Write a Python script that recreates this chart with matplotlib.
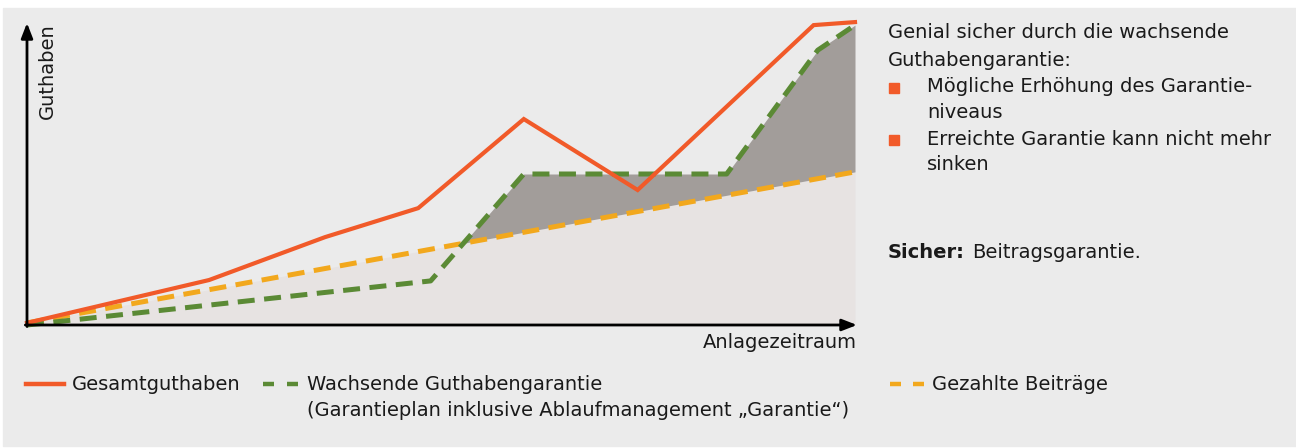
import numpy as np
import matplotlib
matplotlib.use("Agg")
import matplotlib.pyplot as plt
import matplotlib.patches as patches

# values (x = years, y = percent of top of axis)
total_x = [0, 8.8, 14.4, 18.9, 24.0, 29.5, 38.0, 40.0]
total_y = [0.7, 14.9, 29.1, 38.7, 68.2, 44.7, 99.3, 100.3]

guarantee_x = [0, 19.5, 24.0, 33.8, 38.2, 40.0]
guarantee_y = [0, 14.6, 50.0, 50.0, 91.0, 99.3]

paid_x = [0, 40.0]
paid_y = [0.7, 50.7]

legend_labels = ["Gesamtguthaben",
                 "Wachsende Guthabengarantie",
                 "(Garantieplan inklusive Ablaufmanagement \u201eGarantie\u201c)",
                 "Gezahlte Beitr\u00e4ge"]
info_lines = ["Genial sicher durch die wachsende", "Guthabengarantie:"]
bullets = [["M\u00f6gliche Erh\u00f6hung des Garantie-", "niveaus"],
           ["Erreichte Garantie kann nicht mehr", "sinken"]]

ORANGE = "#f15a29"
GREEN = "#5b8a35"
YELLOW = "#f2a81d"
BG = "#ebebeb"
TXT = "#1a1a1a"

W, H = 1296, 448
plt.rcParams['font.family'] = ['DejaVu Sans']

fig = plt.figure(figsize=(W / 100, H / 100), dpi=100, facecolor="white")


def fx(x):
    return x / W


def fy(y):
    return 1 - y / H


# grey card behind everything
fig.patches.append(patches.Rectangle((fx(3), fy(446)), fx(1293), 438 / H,
                                     transform=fig.transFigure, color=BG, zorder=-5))

# axes: x from px 27 to 857, y from px 325 (bottom) to 23 (top)
ax = fig.add_axes([fx(27), fy(325), (857 - 27) / W, (325 - 23) / H])
ax.set_zorder(2)
ax.set_facecolor("none")
ax.set_xlim(0, 40 * 830 / 828)
ax.set_ylim(0, 100)
ax.axis("off")

# fills
grid = np.union1d(np.array(guarantee_x, float), np.array(paid_x, float))
grid = np.union1d(grid, np.linspace(0, 40, 401))
paid_g = np.interp(grid, paid_x, paid_y)
guar_g = np.interp(grid, guarantee_x, guarantee_y)
ax.fill_between(grid, 0, paid_g, color="#e7e3e2", lw=0, zorder=1)
ax.fill_between(grid, paid_g, guar_g, where=guar_g > paid_g, interpolate=True,
                color="#a29d9a", lw=0, zorder=1)

ax.plot(paid_x, paid_y, color=YELLOW, lw=3.6, dashes=(3.4, 1.9),
        dash_capstyle="butt", zorder=3, clip_on=False)
ax.plot(guarantee_x, guarantee_y, color=GREEN, lw=3.6, dashes=(3.4, 1.9),
        dash_capstyle="butt", zorder=4, clip_on=False)
ax.plot(total_x, total_y, color=ORANGE, lw=3.0, zorder=5, clip_on=False,
        solid_joinstyle="miter")

# axis arrows
arrow = dict(arrowstyle="-|>,head_length=0.9,head_width=0.35", color="black",
             lw=2.0, shrinkA=0, shrinkB=0)
ax.annotate("", xy=(0, 1), xytext=(0, -0.005), xycoords="axes fraction",
            arrowprops=arrow, zorder=6)
ax.annotate("", xy=(1, 0), xytext=(-0.002, 0), xycoords="axes fraction",
            arrowprops=arrow, zorder=6)

fs = 14
fig.text(fx(857), fy(342), "Anlagezeitraum", ha="right", va="center",
         fontsize=fs, color=TXT)
fig.text(fx(47), fy(23), "Guthaben", ha="center", va="top", rotation=90,
         fontsize=fs, color=TXT)

# right-hand info text
fig.text(fx(888), fy(32), info_lines[0], ha="left", va="center", fontsize=fs, color=TXT)
fig.text(fx(888), fy(60), info_lines[1], ha="left", va="center", fontsize=fs, color=TXT)
by = 87
for b in bullets:
    fig.patches.append(patches.Rectangle((fx(889), fy(by + 6)), 10 / W, 10 / H,
                                         transform=fig.transFigure, color=ORANGE))
    for line in b:
        fig.text(fx(927), fy(by), line, ha="left", va="center", fontsize=fs, color=TXT)
        by += 26
sicher = fig.text(fx(888), fy(252), "Sicher:", ha="left", va="center", fontsize=fs,
                  color=TXT, fontweight="bold")
ax.annotate("Beitragsgarantie.", xy=(1, 0.5), xycoords=sicher, xytext=(5, 0),
            textcoords="offset points", ha="left", va="center", fontsize=fs,
            color=TXT, annotation_clip=False)

# legend
ly = 384
fig.add_artist(plt.Line2D([fx(26), fx(64)], [fy(ly), fy(ly)], color=ORANGE, lw=3.2))
for x0 in (263, 287):
    fig.add_artist(plt.Line2D([fx(x0), fx(x0 + 11)], [fy(ly), fy(ly)], color=GREEN,
                              lw=3.2, solid_capstyle="butt"))
for x0 in (890, 913):
    fig.add_artist(plt.Line2D([fx(x0), fx(x0 + 11)], [fy(ly), fy(ly)], color=YELLOW,
                              lw=3.2, solid_capstyle="butt"))
fig.text(fx(72), fy(ly), legend_labels[0], ha="left", va="center", fontsize=fs, color=TXT)
fig.text(fx(307), fy(ly), legend_labels[1], ha="left", va="center", fontsize=fs, color=TXT)
fig.text(fx(307), fy(410), legend_labels[2], ha="left", va="center", fontsize=fs, color=TXT)
fig.text(fx(932), fy(ly), legend_labels[3], ha="left", va="center", fontsize=fs, color=TXT)

fig.savefig("out.png", dpi=100, facecolor="white")
